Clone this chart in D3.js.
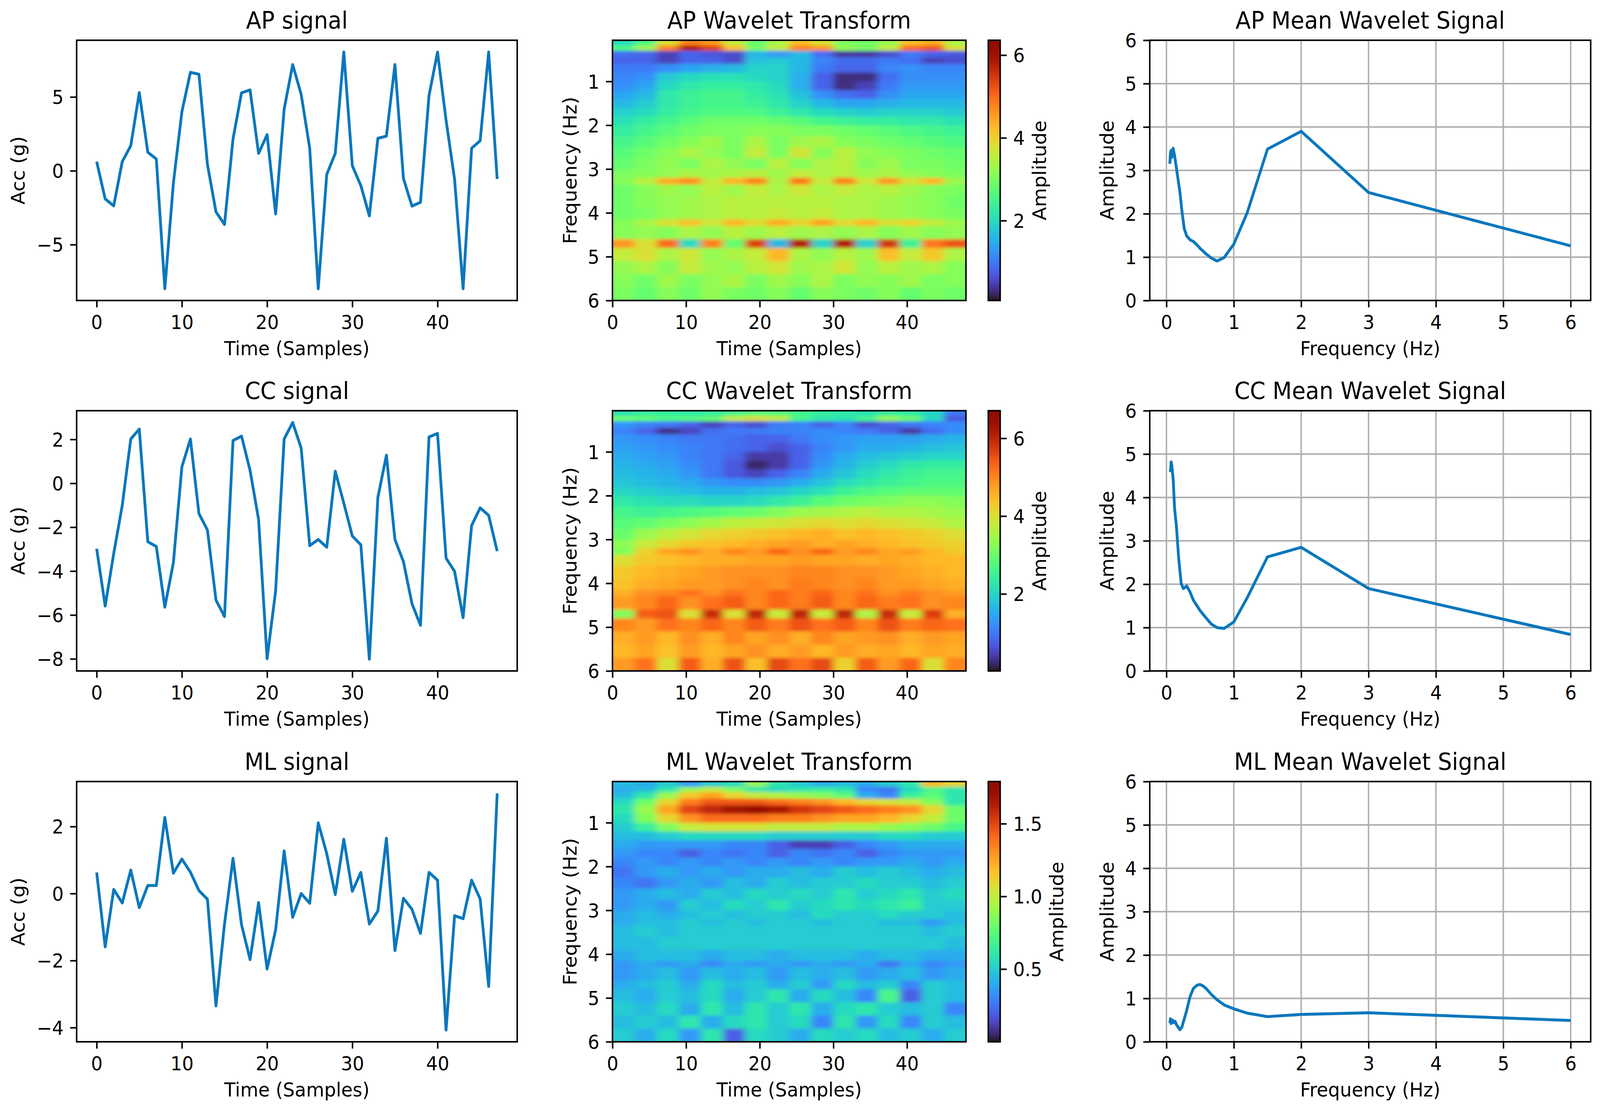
<!DOCTYPE html>
<html>
<head>
<meta charset="utf-8">
<script src="https://cdn.jsdelivr.net/npm/d3@7"></script>
<style>
  html, body { margin: 0; padding: 0; background: #fff; overflow: hidden; }
  svg { display: block; }
  text { font-family: 'DejaVu Sans', sans-serif; fill: #000; }
</style>
</head>
<body>
<div id="graph"></div>
<script>
// ---- data ----
var sampleTicks = [0, 10, 20, 30, 40];

var apSignal = [0.62, -1.9, -2.37, 0.62, 1.7, 5.3, 1.26, 0.8, -7.98, -0.84, 4.0, 6.67, 6.54, 0.43, -2.78, -3.63,
  2.16, 5.28, 5.48, 1.18, 2.45, -2.92, 4.17, 7.19, 5.17, 1.53, -7.98, -0.24, 1.18, 8.04, 0.35, -1.0,
  -3.05, 2.2, 2.35, 7.19, -0.52, -2.39, -2.13, 5.09, 8.04, 3.43, -0.57, -7.98, 1.53, 2.04, 8.04, -0.55];
var ccSignal = [-2.98, -5.59, -3.2, -1.01, 2.02, 2.47, -2.66, -2.88, -5.64, -3.62, 0.75, 2.02, -1.38, -2.13, -5.32, -6.07,
  1.95, 2.15, 0.59, -1.65, -7.99, -4.9, 2.02, 2.77, 1.6, -2.84, -2.56, -2.91, 0.55, -0.9, -2.4, -2.8,
  -8.01, -0.64, 1.28, -2.56, -3.57, -5.48, -6.47, 2.11, 2.27, -3.41, -4.01, -6.12, -1.92, -1.12, -1.46, -3.09];
var mlSignal = [0.63, -1.59, 0.12, -0.28, 0.70, -0.42, 0.24, 0.24, 2.27, 0.61, 1.03, 0.64, 0.09, -0.17, -3.35, -0.91,
  1.05, -0.93, -1.97, -0.27, -2.25, -1.08, 1.27, -0.71, 0.0, -0.29, 2.11, 1.19, -0.03, 1.62, 0.07, 0.63,
  -0.91, -0.52, 1.65, -1.7, -0.14, -0.47, -1.19, 0.63, 0.40, -4.07, -0.66, -0.75, 0.40, -0.16, -2.77, 2.99];

var apSignalTicks = [-5, 0, 5];
var ccSignalTicks = [-8, -6, -4, -2, 0, 2];
var mlSignalTicks = [-4, -2, 0, 2];

// wavelet grids: rows between freqEdges, columns between timeEdges
var freqEdges = [0.06, 0.18, 0.3, 0.45, 0.6, 0.8, 1.0, 1.2, 1.4, 1.6, 1.8, 2.0, 2.25, 2.5, 2.75, 3.0,
  3.2, 3.35, 3.6, 3.9, 4.15, 4.3, 4.6, 4.8, 5.1, 5.4, 5.7, 6.0];
var timeEdges = [0, 3, 6, 9, 12, 15, 18, 21, 24, 27, 30, 33, 36, 39, 42, 45, 48];
var freqTicks = [1, 2, 3, 4, 5, 6];

var apCwt = [
  [2.0, 2.6, 3.8, 4.8, 4.6, 3.6, 2.8, 3.4, 4.2, 3.8, 3.0, 2.9, 3.2, 4.2, 4.4, 3.4],
  [2.6, 3.3, 4.8, 5.9, 5.4, 4.2, 3.0, 3.6, 4.8, 4.6, 3.2, 3.0, 3.6, 5.0, 5.2, 3.8],
  [0.9, 0.8, 0.5, 0.8, 0.7, 0.6, 1.6, 1.3, 1.6, 0.9, 0.4, 0.4, 0.6, 1.0, 0.8, 0.7],
  [0.8, 0.8, 0.5, 0.8, 0.8, 0.6, 1.7, 1.8, 1.6, 1.1, 0.9, 0.9, 1.0, 0.9, 0.5, 0.6],
  [1.0, 1.0, 1.2, 1.4, 1.5, 1.6, 1.9, 1.9, 1.6, 1.0, 0.8, 0.8, 1.1, 1.2, 1.1, 1.1],
  [1.1, 1.2, 1.8, 2.0, 2.1, 2.1, 2.0, 1.9, 1.5, 0.8, 0.3, 0.3, 0.9, 1.2, 1.2, 1.2],
  [1.2, 1.4, 2.0, 2.2, 2.3, 2.3, 2.2, 2.0, 1.5, 0.8, 0.3, 0.5, 1.0, 1.3, 1.3, 1.3],
  [1.4, 1.6, 2.2, 2.4, 2.5, 2.5, 2.3, 2.1, 1.7, 1.2, 0.9, 0.8, 1.2, 1.4, 1.4, 1.4],
  [1.6, 1.8, 2.2, 2.4, 2.5, 2.5, 2.4, 2.2, 1.9, 1.6, 1.4, 1.4, 1.5, 1.6, 1.6, 1.6],
  [1.9, 2.0, 2.3, 2.5, 2.6, 2.6, 2.6, 2.4, 2.2, 2.0, 1.9, 1.8, 1.9, 1.9, 1.9, 1.8],
  [2.1, 2.3, 2.5, 2.7, 2.9, 2.9, 2.9, 2.8, 2.7, 2.5, 2.4, 2.3, 2.3, 2.2, 2.2, 2.1],
  [2.3, 2.5, 2.7, 2.9, 3.0, 3.0, 3.1, 3.1, 3.0, 3.0, 2.9, 2.8, 2.7, 2.6, 2.5, 2.4],
  [2.5, 2.7, 2.9, 3.1, 3.3, 3.0, 3.4, 3.0, 3.3, 3.4, 3.1, 3.0, 2.9, 2.8, 2.7, 2.6],
  [2.7, 2.9, 3.1, 3.4, 3.2, 3.0, 3.6, 3.0, 3.7, 3.1, 3.5, 3.2, 3.1, 3.0, 2.9, 2.8],
  [2.8, 3.0, 3.2, 3.0, 3.4, 3.2, 3.0, 3.5, 3.1, 3.4, 3.5, 3.1, 3.3, 3.0, 3.0, 2.9],
  [3.0, 3.1, 3.2, 3.4, 3.3, 3.4, 3.5, 3.3, 3.6, 3.4, 3.5, 3.3, 3.4, 3.2, 3.1, 3.0],
  [3.1, 3.5, 4.4, 4.7, 3.6, 4.3, 4.8, 3.4, 4.9, 3.6, 4.8, 3.7, 4.6, 3.8, 4.3, 3.3],
  [2.9, 3.1, 3.3, 3.2, 3.5, 3.3, 3.6, 3.4, 3.7, 3.4, 3.6, 3.4, 3.5, 3.3, 3.1, 3.0],
  [2.9, 3.1, 3.2, 3.3, 3.4, 3.5, 3.5, 3.5, 3.5, 3.5, 3.4, 3.4, 3.3, 3.2, 3.1, 2.9],
  [2.9, 3.0, 3.2, 3.3, 3.4, 3.5, 3.5, 3.6, 3.5, 3.6, 3.4, 3.4, 3.3, 3.2, 3.1, 3.0],
  [3.1, 3.4, 3.8, 4.2, 3.7, 4.3, 3.9, 4.4, 4.0, 4.5, 3.9, 4.3, 3.8, 4.0, 3.6, 3.3],
  [3.1, 3.2, 3.1, 3.4, 3.2, 3.5, 3.3, 3.5, 3.3, 3.4, 3.2, 3.4, 3.1, 3.3, 3.1, 3.2],
  [4.6, 3.8, 5.0, 2.0, 4.8, 2.8, 5.4, 1.6, 5.8, 1.9, 5.8, 1.9, 5.5, 2.4, 4.9, 5.2],
  [3.6, 3.8, 3.4, 3.7, 3.2, 3.4, 3.6, 4.3, 3.4, 3.2, 3.5, 3.3, 4.2, 3.6, 4.1, 3.4],
  [3.2, 3.4, 3.1, 3.6, 3.3, 3.2, 3.5, 3.7, 3.3, 3.4, 3.7, 3.2, 3.5, 3.3, 3.4, 3.1],
  [3.1, 2.9, 3.3, 3.0, 3.2, 3.4, 3.0, 3.3, 3.1, 3.4, 3.0, 3.2, 3.1, 3.3, 3.0, 3.1],
  [3.0, 2.8, 3.1, 2.9, 3.2, 3.0, 2.9, 3.1, 2.8, 3.1, 3.0, 2.9, 3.1, 2.8, 3.0, 2.9]
];
var ccCwt = [
  [2.2, 2.4, 2.4, 2.3, 2.4, 2.6, 2.8, 2.8, 2.6, 2.4, 2.3, 2.2, 2.4, 2.3, 2.0, 1.0],
  [3.0, 2.9, 2.7, 2.8, 2.9, 3.8, 4.0, 3.8, 2.6, 2.3, 2.2, 2.6, 3.4, 3.0, 2.0, 0.7],
  [1.3, 1.1, 1.0, 0.8, 0.5, 0.8, 0.6, 1.0, 1.1, 0.8, 1.1, 0.6, 0.8, 1.0, 1.1, 1.2],
  [1.1, 0.8, 0.3, 0.5, 0.9, 1.0, 1.0, 1.1, 1.1, 1.2, 1.1, 1.0, 0.8, 0.4, 0.9, 1.2],
  [1.3, 1.2, 1.1, 1.0, 1.0, 0.9, 0.8, 0.8, 1.0, 1.2, 1.3, 1.4, 1.4, 1.4, 1.5, 1.6],
  [1.4, 1.3, 1.2, 1.1, 1.0, 0.9, 0.8, 0.6, 0.8, 1.1, 1.3, 1.5, 1.5, 1.6, 1.7, 1.8],
  [1.5, 1.4, 1.3, 1.1, 1.0, 0.8, 0.4, 0.4, 0.8, 1.2, 1.5, 1.7, 1.8, 1.9, 2.0, 2.0],
  [1.6, 1.5, 1.4, 1.2, 1.0, 0.7, 0.2, 0.4, 0.8, 1.3, 1.6, 1.9, 2.1, 2.3, 2.4, 2.4],
  [1.7, 1.6, 1.5, 1.3, 1.0, 0.7, 0.5, 0.8, 1.1, 1.5, 1.8, 2.1, 2.3, 2.5, 2.6, 2.6],
  [1.8, 1.7, 1.6, 1.5, 1.3, 1.2, 1.2, 1.3, 1.5, 1.8, 2.1, 2.3, 2.5, 2.6, 2.7, 2.7],
  [2.0, 1.9, 1.8, 1.7, 1.6, 1.6, 1.7, 1.8, 2.0, 2.2, 2.5, 2.7, 2.8, 2.9, 2.9, 2.9],
  [2.3, 2.2, 2.1, 2.1, 2.0, 2.0, 2.1, 2.3, 2.5, 2.8, 3.0, 3.1, 3.2, 3.3, 3.3, 3.2],
  [2.6, 2.5, 2.6, 2.7, 2.8, 2.9, 3.0, 3.2, 3.4, 3.5, 3.6, 3.7, 3.6, 3.6, 3.5, 3.4],
  [2.8, 2.9, 3.1, 3.3, 3.5, 3.7, 3.8, 3.9, 4.0, 4.1, 4.0, 4.1, 4.0, 3.9, 3.8, 3.6],
  [3.0, 3.4, 3.7, 3.9, 4.1, 4.2, 4.3, 4.4, 4.5, 4.6, 4.4, 4.5, 4.4, 4.3, 4.2, 4.0],
  [3.3, 3.8, 4.1, 4.3, 4.4, 4.5, 4.6, 4.7, 4.8, 4.6, 4.7, 4.6, 4.5, 4.4, 4.3, 4.2],
  [3.2, 4.2, 4.7, 4.9, 4.6, 5.0, 4.8, 5.3, 4.9, 5.3, 4.8, 5.0, 4.7, 4.8, 4.5, 4.3],
  [4.0, 4.3, 4.4, 4.5, 4.6, 4.6, 4.7, 4.7, 4.8, 4.7, 4.7, 4.6, 4.7, 4.6, 4.5, 4.5],
  [4.3, 4.5, 4.6, 4.7, 4.8, 4.9, 4.9, 4.9, 5.0, 5.0, 4.9, 4.9, 4.8, 4.7, 4.6, 4.5],
  [4.4, 4.6, 4.7, 4.8, 4.8, 4.9, 5.0, 4.9, 5.1, 5.0, 4.9, 5.0, 4.8, 4.8, 4.7, 4.6],
  [4.6, 4.9, 5.0, 5.2, 4.9, 5.2, 5.0, 5.3, 5.1, 5.3, 5.0, 5.2, 4.9, 5.1, 4.9, 4.8],
  [4.8, 5.0, 5.3, 4.9, 5.2, 5.4, 5.0, 5.3, 5.1, 5.4, 5.0, 5.3, 5.1, 5.2, 4.9, 5.0],
  [3.2, 5.4, 5.5, 4.0, 5.9, 4.0, 6.0, 3.8, 6.0, 3.8, 6.0, 3.6, 5.9, 3.8, 5.7, 4.6],
  [5.0, 4.8, 5.2, 5.0, 5.3, 5.0, 5.4, 5.1, 5.5, 5.2, 5.4, 5.0, 5.5, 5.1, 5.3, 5.2],
  [4.6, 4.8, 4.5, 4.9, 4.6, 5.0, 4.7, 4.9, 4.6, 5.0, 4.7, 4.8, 4.9, 4.6, 4.8, 4.7],
  [4.5, 4.7, 4.4, 4.8, 4.5, 4.7, 4.9, 4.6, 4.8, 4.5, 4.8, 4.6, 4.7, 4.5, 4.7, 4.6],
  [4.8, 5.2, 4.0, 5.4, 4.6, 5.5, 4.4, 5.6, 5.2, 5.6, 4.2, 5.4, 4.8, 5.3, 4.0, 5.0]
];
var mlCwt = [
  [0.45, 0.4, 0.5, 0.35, 0.5, 0.55, 0.9, 0.6, 0.5, 0.4, 0.45, 0.4, 0.5, 0.6, 1.2, 1.1],
  [0.4, 0.45, 0.6, 0.9, 1.0, 0.85, 0.6, 0.55, 0.6, 0.65, 0.6, 0.3, 0.25, 0.55, 0.7, 0.6],
  [0.45, 0.6, 0.9, 1.15, 1.25, 1.1, 1.0, 0.95, 0.9, 0.85, 0.75, 0.4, 0.3, 0.65, 0.75, 0.6],
  [0.55, 0.8, 1.1, 1.35, 1.45, 1.45, 1.45, 1.4, 1.35, 1.3, 1.2, 1.1, 1.05, 1.0, 0.85, 0.6],
  [0.6, 0.9, 1.25, 1.5, 1.6, 1.68, 1.72, 1.65, 1.55, 1.5, 1.45, 1.4, 1.35, 1.3, 1.1, 0.8],
  [0.55, 0.85, 1.1, 1.3, 1.4, 1.4, 1.4, 1.35, 1.35, 1.3, 1.25, 1.25, 1.2, 1.1, 1.0, 0.8],
  [0.5, 0.65, 0.85, 1.0, 1.05, 1.05, 1.05, 1.0, 1.0, 1.0, 0.95, 0.95, 0.9, 0.85, 0.8, 0.7],
  [0.45, 0.45, 0.5, 0.55, 0.55, 0.55, 0.55, 0.5, 0.5, 0.5, 0.5, 0.5, 0.55, 0.55, 0.5, 0.5],
  [0.4, 0.35, 0.35, 0.35, 0.35, 0.3, 0.3, 0.2, 0.12, 0.12, 0.2, 0.3, 0.35, 0.4, 0.4, 0.4],
  [0.35, 0.3, 0.3, 0.2, 0.3, 0.25, 0.3, 0.2, 0.3, 0.25, 0.3, 0.2, 0.3, 0.35, 0.35, 0.35],
  [0.3, 0.35, 0.3, 0.35, 0.3, 0.35, 0.3, 0.35, 0.3, 0.35, 0.3, 0.35, 0.35, 0.4, 0.35, 0.4],
  [0.25, 0.35, 0.4, 0.35, 0.4, 0.35, 0.4, 0.4, 0.45, 0.4, 0.5, 0.45, 0.5, 0.45, 0.4, 0.45],
  [0.3, 0.25, 0.35, 0.4, 0.35, 0.45, 0.4, 0.5, 0.45, 0.5, 0.5, 0.55, 0.5, 0.5, 0.45, 0.5],
  [0.35, 0.4, 0.45, 0.4, 0.5, 0.45, 0.55, 0.5, 0.55, 0.5, 0.6, 0.5, 0.55, 0.6, 0.5, 0.55],
  [0.35, 0.4, 0.35, 0.5, 0.45, 0.55, 0.5, 0.6, 0.5, 0.55, 0.6, 0.55, 0.6, 0.65, 0.5, 0.5],
  [0.4, 0.45, 0.4, 0.45, 0.5, 0.45, 0.5, 0.5, 0.45, 0.55, 0.5, 0.5, 0.55, 0.5, 0.5, 0.45],
  [0.4, 0.45, 0.45, 0.5, 0.45, 0.5, 0.45, 0.5, 0.5, 0.45, 0.5, 0.5, 0.45, 0.45, 0.35, 0.45],
  [0.45, 0.5, 0.45, 0.5, 0.5, 0.5, 0.5, 0.5, 0.5, 0.5, 0.5, 0.5, 0.5, 0.5, 0.45, 0.5],
  [0.45, 0.45, 0.5, 0.5, 0.5, 0.5, 0.5, 0.5, 0.5, 0.5, 0.5, 0.5, 0.5, 0.5, 0.5, 0.45],
  [0.4, 0.45, 0.45, 0.45, 0.4, 0.45, 0.45, 0.4, 0.45, 0.45, 0.45, 0.4, 0.45, 0.45, 0.4, 0.4],
  [0.35, 0.4, 0.35, 0.4, 0.3, 0.4, 0.35, 0.4, 0.35, 0.4, 0.35, 0.4, 0.25, 0.4, 0.3, 0.35],
  [0.35, 0.4, 0.45, 0.35, 0.45, 0.4, 0.45, 0.35, 0.45, 0.4, 0.45, 0.35, 0.4, 0.45, 0.35, 0.4],
  [0.4, 0.45, 0.5, 0.4, 0.55, 0.45, 0.5, 0.4, 0.5, 0.35, 0.55, 0.45, 0.5, 0.3, 0.5, 0.45],
  [0.45, 0.4, 0.5, 0.45, 0.55, 0.4, 0.5, 0.6, 0.4, 0.55, 0.45, 0.3, 0.7, 0.2, 0.5, 0.45],
  [0.5, 0.45, 0.55, 0.4, 0.6, 0.45, 0.6, 0.5, 0.6, 0.4, 0.55, 0.6, 0.5, 0.45, 0.5, 0.3],
  [0.45, 0.5, 0.45, 0.6, 0.4, 0.55, 0.6, 0.5, 0.55, 0.3, 0.6, 0.35, 0.55, 0.3, 0.5, 0.45],
  [0.5, 0.4, 0.55, 0.35, 0.6, 0.2, 0.55, 0.5, 0.4, 0.55, 0.5, 0.55, 0.45, 0.5, 0.4, 0.5]
];

var apAmpRange = [0.07, 6.36];
var ccAmpRange = [0.02, 6.71];
var mlAmpRange = [0.0, 1.79];
var apColorTicks = [2, 4, 6];
var ccColorTicks = [2, 4, 6];
var mlColorTicks = [0.5, 1.0, 1.5];

var apMeanFreq = [0.05, 0.06, 0.07, 0.08, 0.09, 0.1, 0.12, 0.15, 0.2, 0.23, 0.265, 0.3, 0.35, 0.4, 0.46, 0.5,
  0.6, 0.667, 0.75, 0.857, 1.0, 1.2, 1.5, 2.0, 3.0, 6.0];
var apMeanAmp = [3.15, 3.42, 3.46, 3.3, 3.45, 3.51, 3.35, 3.03, 2.5, 2.06, 1.65, 1.49, 1.40, 1.36, 1.27, 1.2,
  1.06, 0.98, 0.91, 0.99, 1.30, 2.03, 3.49, 3.90, 2.49, 1.26];
var ccMeanFreq = [0.05, 0.06, 0.07, 0.08, 0.1, 0.12, 0.15, 0.18, 0.2, 0.22, 0.25, 0.28, 0.3, 0.35, 0.4, 0.5,
  0.6, 0.667, 0.75, 0.857, 1.0, 1.2, 1.5, 2.0, 3.0, 6.0];
var ccMeanAmp = [4.59, 4.62, 4.82, 4.74, 4.42, 3.77, 3.3, 2.63, 2.31, 2.01, 1.90, 1.93, 1.96, 1.82, 1.63, 1.39,
  1.2, 1.08, 1.0, 0.98, 1.13, 1.69, 2.63, 2.85, 1.90, 0.84];
var mlMeanFreq = [0.05, 0.06, 0.07, 0.09, 0.11, 0.13, 0.15, 0.2, 0.23, 0.3, 0.35, 0.4, 0.46, 0.5, 0.55, 0.6,
  0.667, 0.75, 0.857, 1.0, 1.2, 1.5, 2.0, 3.0, 6.0];
var mlMeanAmp = [0.43, 0.53, 0.42, 0.50, 0.44, 0.47, 0.39, 0.28, 0.34, 0.72, 1.04, 1.23, 1.31, 1.32, 1.28, 1.21,
  1.09, 0.97, 0.85, 0.76, 0.66, 0.58, 0.63, 0.67, 0.49];
var meanTicks = [0, 1, 2, 3, 4, 5, 6];

// ---- layout (in the 4300 x 2838 drawing space) ----
var W = 4300, H = 2838;
var rowTop = [103, 1051, 2000];
var axH = 666;
var sigX = [206, 1390], heatX = [1646, 2596], meanX = [3090, 4275];
var cbLeft = 2656, cbW = 32;
var TICK = 17.5, LW = 4;
var lineColor = '#0a77bd';

// the svg fills whatever viewport it is given, so nothing falls off the right edge
var svg = d3.select('#graph').append('svg')
    .attr('viewBox', '0 0 ' + W + ' ' + H)
    .attr('preserveAspectRatio', 'none')
    .style('width', '100vw')
    .style('height', '100vh');
var defs = svg.append('defs');

defs.append('filter').attr('id', 'soft')
    .attr('x', '-5%').attr('y', '-5%').attr('width', '110%').attr('height', '110%')
  .append('feGaussianBlur').attr('stdDeviation', '10 4');

var grad = defs.append('linearGradient').attr('id', 'turbo')
    .attr('x1', 0).attr('y1', 1).attr('x2', 0).attr('y2', 0);
d3.range(0, 1.0001, 0.02).forEach(function(t) {
    grad.append('stop').attr('offset', t).attr('stop-color', d3.interpolateTurbo(t));
});

function fmtTick(v) { return String(v).replace('-', '\u2212'); }

function padded(lo, hi) {
    var m = (hi - lo) * 0.05;
    return [lo - m, hi + m];
}

function styleAxis(g) {
    g.attr('font-size', 49).attr('font-family', 'DejaVu Sans');
    g.select('.domain').remove();
    g.selectAll('.tick line').attr('stroke', '#000').attr('stroke-width', LW);
    g.selectAll('.tick text').attr('fill', '#000');
}

function xAxisAt(g, x, h, ticks, fmt) {
    var a = g.append('g').attr('transform', 'translate(0,' + h + ')')
        .call(d3.axisBottom(x).tickValues(ticks).tickSize(TICK).tickFormat(fmt));
    styleAxis(a);
    a.selectAll('.tick text').attr('y', 73).attr('dy', 0);
}

function yAxisAt(g, y, ticks, fmt) {
    var a = g.append('g')
        .call(d3.axisLeft(y).tickValues(ticks).tickSize(TICK).tickPadding(TICK).tickFormat(fmt));
    styleAxis(a);
    a.selectAll('.tick text').attr('dy', '0.36em');
}

function labels(g, w, h, title, xlabel, ylabel, ylabelX) {
    g.append('text').attr('x', w / 2).attr('y', -30).attr('text-anchor', 'middle')
        .attr('font-size', 60).text(title);
    g.append('text').attr('x', w / 2).attr('y', h + 140).attr('text-anchor', 'middle')
        .attr('font-size', 50).text(xlabel);
    g.append('text').attr('transform', 'translate(' + ylabelX + ',' + (h / 2) + ') rotate(-90)')
        .attr('text-anchor', 'middle').attr('font-size', 50).text(ylabel);
}

function frame(g, w, h) {
    g.append('rect').attr('width', w).attr('height', h)
        .attr('fill', 'none').attr('stroke', '#000').attr('stroke-width', LW);
}

function drawSignal(row, data, yTicks, title) {
    var w = sigX[1] - sigX[0], h = axH;
    var g = svg.append('g').attr('transform', 'translate(' + sigX[0] + ',' + rowTop[row] + ')');
    var x = d3.scaleLinear().domain(padded(0, data.length - 1)).range([0, w]);
    var ext = d3.extent(data);
    var y = d3.scaleLinear().domain(padded(ext[0], ext[1])).range([h, 0]);

    g.append('path').datum(data)
        .attr('fill', 'none').attr('stroke', lineColor).attr('stroke-width', 7.5)
        .attr('stroke-linejoin', 'round')
        .attr('d', d3.line().x(function(d, i) { return x(i); }).y(function(d) { return y(d); }));

    xAxisAt(g, x, h, sampleTicks, fmtTick);
    yAxisAt(g, y, yTicks, fmtTick);
    frame(g, w, h);
    labels(g, w, h, title, 'Time (Samples)', 'Acc (g)', -140);
}

function drawHeat(row, grid, ampRange, cTicks, cFmt, title) {
    var w = heatX[1] - heatX[0], h = axH;
    var g = svg.append('g').attr('transform', 'translate(' + heatX[0] + ',' + rowTop[row] + ')');
    var x = d3.scaleLinear().domain([timeEdges[0], timeEdges[timeEdges.length - 1]]).range([0, w]);
    var y = d3.scaleLinear().domain([freqEdges[0], freqEdges[freqEdges.length - 1]]).range([0, h]);
    var color = d3.scaleSequential(d3.interpolateTurbo).domain(ampRange);

    var clipId = 'clip' + row;
    defs.append('clipPath').attr('id', clipId).append('rect').attr('width', w).attr('height', h);

    var cells = [];
    grid.forEach(function(r, ri) {
        r.forEach(function(v, ci) { cells.push({ r: ri, c: ci, v: v }); });
    });
    var nr = grid.length, nc = grid[0].length, pad = 40;

    g.append('g').attr('clip-path', 'url(#' + clipId + ')')
      .append('g').attr('filter', 'url(#soft)')
      .selectAll('rect').data(cells).enter().append('rect')
        .attr('x', function(d) { return x(timeEdges[d.c]) - (d.c === 0 ? pad : 0); })
        .attr('width', function(d) {
            return x(timeEdges[d.c + 1]) - x(timeEdges[d.c]) + (d.c === 0 ? pad : 0) + (d.c === nc - 1 ? pad : 0.6);
        })
        .attr('y', function(d) { return y(freqEdges[d.r]) - (d.r === 0 ? pad : 0); })
        .attr('height', function(d) {
            return y(freqEdges[d.r + 1]) - y(freqEdges[d.r]) + (d.r === 0 ? pad : 0) + (d.r === nr - 1 ? pad : 0.6);
        })
        .attr('fill', function(d) { return color(d.v); });

    xAxisAt(g, x, h, sampleTicks, fmtTick);
    yAxisAt(g, y, freqTicks, fmtTick);
    frame(g, w, h);
    labels(g, w, h, title, 'Time (Samples)', 'Frequency (Hz)', -97);

    // colour bar
    var cb = svg.append('g').attr('transform', 'translate(' + cbLeft + ',' + rowTop[row] + ')');
    cb.append('rect').attr('width', cbW).attr('height', h).attr('fill', 'url(#turbo)');
    var cy = d3.scaleLinear().domain(ampRange).range([h, 0]);
    var a = cb.append('g').attr('transform', 'translate(' + cbW + ',0)')
        .call(d3.axisRight(cy).tickValues(cTicks).tickSize(TICK).tickPadding(TICK).tickFormat(cFmt));
    styleAxis(a);
    a.selectAll('.tick text').attr('dy', '0.36em');
    frame(cb, cbW, h);
    var maxW = 0;
    a.selectAll('.tick text').each(function() { maxW = Math.max(maxW, this.getComputedTextLength()); });
    var lx = cbW + TICK * 2 + maxW + 20 + 37;
    cb.append('text').attr('transform', 'translate(' + lx + ',' + (h / 2) + ') rotate(-90)')
        .attr('text-anchor', 'middle').attr('font-size', 50).text('Amplitude');
}

function drawMean(row, freqs, amps, title) {
    var w = meanX[1] - meanX[0], h = axH;
    var g = svg.append('g').attr('transform', 'translate(' + meanX[0] + ',' + rowTop[row] + ')');
    var fx = d3.extent(freqs);
    var x = d3.scaleLinear().domain(padded(fx[0], fx[1])).range([0, w]);
    var y = d3.scaleLinear().domain([0, 6]).range([h, 0]);

    var grid = g.append('g').attr('stroke', '#b0b0b0').attr('stroke-width', LW);
    grid.selectAll('.gx').data(meanTicks).enter().append('line')
        .attr('x1', function(d) { return x(d); }).attr('x2', function(d) { return x(d); })
        .attr('y1', 0).attr('y2', h);
    grid.selectAll('.gy').data(meanTicks).enter().append('line')
        .attr('y1', function(d) { return y(d); }).attr('y2', function(d) { return y(d); })
        .attr('x1', 0).attr('x2', w);

    g.append('path').datum(d3.zip(freqs, amps))
        .attr('fill', 'none').attr('stroke', lineColor).attr('stroke-width', 7.5)
        .attr('stroke-linejoin', 'round')
        .attr('d', d3.line().x(function(d) { return x(d[0]); }).y(function(d) { return y(d[1]); }));

    xAxisAt(g, x, h, meanTicks, fmtTick);
    yAxisAt(g, y, meanTicks, fmtTick);
    frame(g, w, h);
    labels(g, w, h, title, 'Frequency (Hz)', 'Amplitude', -97);
}

drawSignal(0, apSignal, apSignalTicks, 'AP signal');
drawSignal(1, ccSignal, ccSignalTicks, 'CC signal');
drawSignal(2, mlSignal, mlSignalTicks, 'ML signal');

drawHeat(0, apCwt, apAmpRange, apColorTicks, d3.format('d'), 'AP Wavelet Transform');
drawHeat(1, ccCwt, ccAmpRange, ccColorTicks, d3.format('d'), 'CC Wavelet Transform');
drawHeat(2, mlCwt, mlAmpRange, mlColorTicks, d3.format('.1f'), 'ML Wavelet Transform');

drawMean(0, apMeanFreq, apMeanAmp, 'AP Mean Wavelet Signal');
drawMean(1, ccMeanFreq, ccMeanAmp, 'CC Mean Wavelet Signal');
drawMean(2, mlMeanFreq, mlMeanAmp, 'ML Mean Wavelet Signal');
</script>
</body>
</html>
